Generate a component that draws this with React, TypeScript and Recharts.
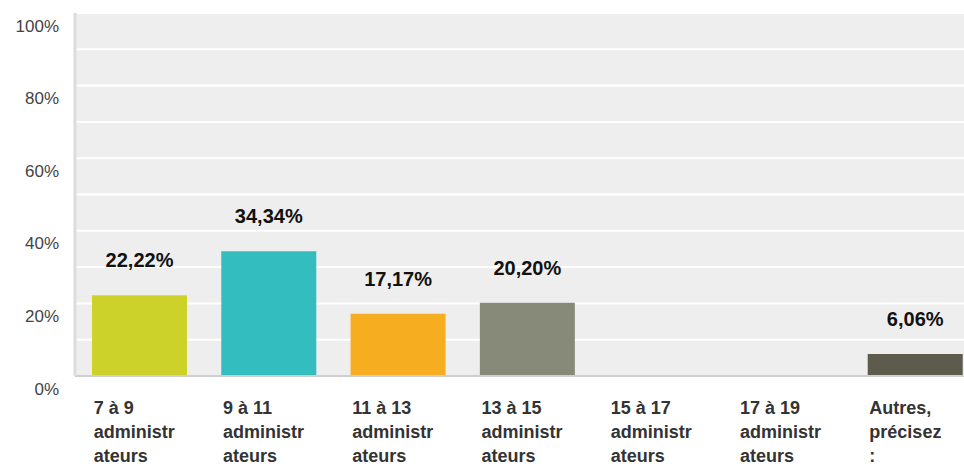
import { BarChart, Bar, Cell, CartesianGrid, XAxis, YAxis, LabelList } from 'recharts';

const categories = ['7 à 9 administrateurs', '9 à 11 administrateurs', '11 à 13 administrateurs', '13 à 15 administrateurs', '15 à 17 administrateurs', '17 à 19 administrateurs', 'Autres, précisez :'];
const tickLines = [
  ['7 à 9', 'administr', 'ateurs'],
  ['9 à 11', 'administr', 'ateurs'],
  ['11 à 13', 'administr', 'ateurs'],
  ['13 à 15', 'administr', 'ateurs'],
  ['15 à 17', 'administr', 'ateurs'],
  ['17 à 19', 'administr', 'ateurs'],
  ['Autres,', 'précisez', ':'],
];
const percents = [22.22, 34.34, 17.17, 20.2, 0, 0, 6.06];
const percentLabels = ['22,22%', '34,34%', '17,17%', '20,20%', '', '', '6,06%'];
const barColors = ['#cdd22b', '#33bdbe', '#f6ad1f', '#888a79', '#8f9a3a', '#5a9ea8', '#5d5b4b'];
const yTicks = [0, 10, 20, 30, 40, 50, 60, 70, 80, 90, 100];

const data = categories.map((c, i) => ({ name: c, value: percents[i], label: percentLabels[i] }));

const FONT = '"Liberation Sans", Arial, sans-serif';

const YTick = (props: any) => {
  const { x, y, payload } = props;
  if (payload.value % 20 !== 0) return null;
  return (
    <text x={x - 8} y={y + 18.5} textAnchor="end" fontSize={17} fill="#444" fontFamily={FONT}>
      {payload.value}%
    </text>
  );
};

const XTick = (props: any) => {
  const { x, y, index } = props;
  const lines = tickLines[index] || [];
  return (
    <g>
      {lines.map((l, k) => (
        <text key={k} x={x - 46} y={y + 30 + k * 24} textAnchor="start" fontSize={18} fontWeight="bold" fill="#333" fontFamily={FONT}>
          {l}
        </text>
      ))}
    </g>
  );
};

const PctLabel = (props: any) => {
  const { x, y, width, value } = props;
  if (!value) return null;
  return (
    <text x={x + width / 2} y={y - 28} textAnchor="middle" fontSize={20} fontWeight="bold" fill="#111" fontFamily={FONT}>
      {value}
    </text>
  );
};

export default function App() {
  return (
    <div style={{ position: 'fixed', top: 0, left: 0, width: 964, height: 466, overflow: 'hidden', background: '#fff' }}>
      <BarChart width={990} height={466} data={data} margin={{ top: 13, right: 10, left: 0, bottom: 0 }} barSize={95}>
        <CartesianGrid vertical={false} stroke="#fff" strokeWidth={2} fill="#eeeeee" />
        <XAxis dataKey="name" height={90} interval={0} tickLine={false} axisLine={{ stroke: '#cfcfcf', strokeWidth: 2 }} tick={<XTick />} />
        <YAxis width={75} domain={[0, 100]} ticks={yTicks} interval={0} tickLine={false} axisLine={{ stroke: '#dcdcdc', strokeWidth: 3 }} tick={<YTick />} />
        <Bar dataKey="value" isAnimationActive={false}>
          {data.map((d, i) => (
            <Cell key={i} fill={barColors[i]} />
          ))}
          <LabelList dataKey="label" content={<PctLabel />} />
        </Bar>
      </BarChart>
    </div>
  );
}
